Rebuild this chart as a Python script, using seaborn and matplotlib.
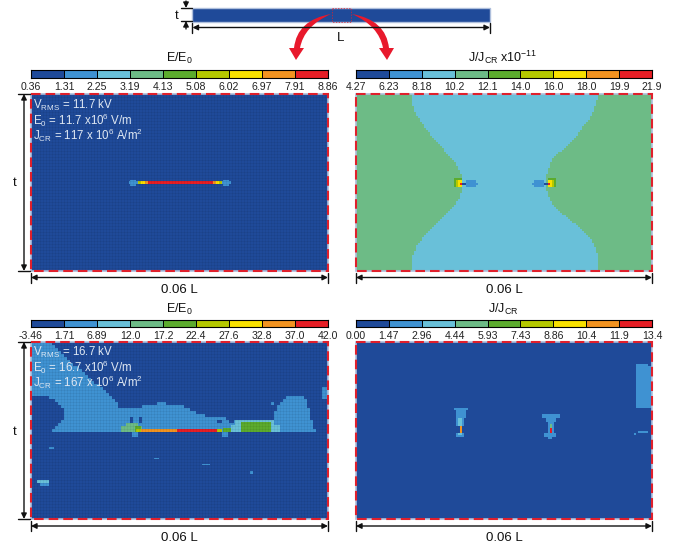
import numpy as np
import matplotlib
matplotlib.use("Agg")
import matplotlib.pyplot as plt
import seaborn as sns
from matplotlib.colors import ListedColormap, BoundaryNorm
from matplotlib.patches import Rectangle, PathPatch
from matplotlib.path import Path

# colour scale shared by all four panels
level_colors = ["#1f4a99", "#3f92d2", "#69c0d9", "#6dbb86", "#5cab2d",
                "#b5c800", "#f8e000", "#f29320", "#e61e25"]

# colour bar labels
ticks_e_top = ["0.36", "1.31", "2.25", "3.19", "4.13", "5.08", "6.02", "6.97", "7.91", "8.86"]
ticks_j_top = ["4.27", "6.23", "8.18", "10.2", "12.1", "14.0", "16.0", "18.0", "19.9", "21.9"]
ticks_e_bot = ["-3.46", "1.71", "6.89", "12.0", "17.2", "22.4", "27.6", "32.8", "37.0", "42.0"]
ticks_j_bot = ["0.00", "1.47", "2.96", "4.44", "5.93", "7.43", "8.86", "10.4", "11.9", "13.4"]

# regions are (level, row from, row to, col from, col to) on the cell grid
# E panels have 118 x 198 half cells, J panels 88 x 148 cells
e_top_regions = [(1, 58, 60, 65, 71), (1, 57, 61, 66, 70), (1, 58, 60, 127, 133), (1, 57, 61, 128, 132),
                 (5, 58, 60, 71, 73), (6, 58, 60, 73, 76), (7, 58, 60, 76, 78), (8, 58, 60, 78, 121),
                 (7, 58, 60, 121, 123), (6, 58, 60, 123, 125), (5, 58, 60, 125, 127)]

# first plume row for each column of the lower E panel (full cells)
plume_top = [0, 0, 0, 0, 0, 0, 0, 1, 2, 3, 4, 5, 6, 7, 8, 8, 9, 10, 11, 12,
             13, 14, 14, 15, 16, 17, 18, 19, 20, 22, 22, 22, 22, 22, 22, 22, 22, 21, 21, 21,
             21, 21, 20, 20, 20, 21, 21, 21, 21, 21, 21, 22, 22, 23, 23, 24, 24, 24, 25, 25,
             25, 25, 25, 25, 25, 26, 26, 26, 26, 26, 26, 26, 26, 26, 26, 26, 26, 26, 26, 27,
             26, 23, 21, 20, 19, 18, 18, 18, 18, 18, 18, 19, 22, 26, 29, 30, 30, 30, 30]
# last column of the dark pocket for rows 18 to 29
pocket_right = [5, 7, 8, 9, 10, 10, 10, 10, 9, 8, 7, 6]
e_bot_regions = [(3, 54, 60, 63, 71), (3, 56, 60, 60, 74), (4, 56, 60, 69, 73),
                 (0, 50, 54, 66, 68), (0, 50, 54, 72, 74),
                 (2, 52, 60, 136, 162), (2, 55, 60, 133, 166), (4, 53, 60, 140, 160), (4, 57, 60, 128, 133),
                 (0, 48, 50, 126, 134), (0, 52, 54, 124, 127), (0, 52, 54, 132, 135),
                 (1, 60, 63, 67, 71), (1, 60, 63, 127, 131),
                 (5, 58, 60, 70, 73), (7, 58, 60, 73, 97), (8, 58, 60, 97, 124), (5, 58, 60, 124, 127),
                 (1, 70, 71, 12, 15), (1, 77, 78, 82, 85), (1, 81, 82, 114, 119),
                 (1, 86, 88, 146, 148), (1, 40, 42, 160, 162), (2, 92, 94, 4, 12),
                 (1, 94, 96, 6, 12), (1, 30, 38, 194, 198)]

# edges of the pale centre band for each row of the upper J panel
band_left = [28, 28, 28, 28, 28, 28, 29, 29, 29, 30, 30, 31, 32, 32, 33, 34, 34, 35, 36, 37,
             37, 38, 39, 40, 41, 42, 43, 44, 44, 45, 46, 47, 48, 49, 50, 50, 51, 51, 52, 52,
             53, 53, 53, 53, 53, 53, 53, 53, 53, 52, 52, 52, 51, 50, 50, 49, 48, 47, 46, 45,
             44, 43, 42, 41, 40, 39, 38, 37, 36, 35, 34, 33, 33, 32, 31, 30, 30, 30, 29, 29,
             28, 28, 28, 28, 28, 28, 28, 28]
band_right = [121, 121, 121, 120, 120, 120, 119, 119, 119, 118, 118, 117, 117, 116, 115, 114, 113, 113, 112, 111,
              111, 110, 109, 108, 107, 106, 105, 104, 103, 101, 100, 99, 98, 98, 97, 97, 97, 96, 96, 96,
              95, 95, 95, 95, 95, 95, 95, 95, 96, 96, 96, 97, 97, 98, 98, 99, 100, 101, 102, 103,
              105, 106, 107, 108, 110, 111, 112, 113, 114, 115, 116, 117, 118, 118, 119, 119, 120, 120, 120, 121,
              121, 121, 121, 121, 121, 121, 121, 121]
j_top_regions = [(4, 42, 46, 49, 53), (5, 43, 46, 50, 53), (6, 43, 46, 51, 53), (8, 44, 45, 52, 53),
                 (0, 44, 45, 53, 55), (1, 43, 46, 55, 60), (1, 44, 45, 60, 61),
                 (4, 42, 46, 96, 100), (5, 43, 46, 96, 99), (6, 43, 46, 96, 98), (8, 44, 45, 96, 97),
                 (0, 44, 45, 94, 96), (1, 43, 46, 89, 94), (1, 44, 45, 88, 89)]

j_bot_regions = [(1, 33, 34, 49, 56), (1, 34, 38, 50, 55), (1, 38, 42, 50, 54), (2, 38, 42, 51, 53),
                 (7, 42, 45, 52, 53), (1, 45, 47, 50, 54), (2, 45, 46, 51, 53),
                 (1, 36, 38, 93, 102), (1, 38, 40, 95, 100), (1, 40, 45, 96, 99), (3, 41, 44, 97, 98),
                 (8, 43, 45, 97, 98), (1, 45, 47, 94, 100), (1, 47, 48, 96, 98),
                 (1, 11, 33, 140, 148), (0, 11, 12, 146, 148), (1, 44, 45, 141, 146), (1, 45, 46, 139, 140)]


def fill(grid, regions):
    for level, r0, r1, c0, c1 in regions:
        grid[r0:r1, c0:c1] = level


e_top = np.zeros((118, 198), dtype=int)
fill(e_top, e_top_regions)

# lower E panel: the plume is read on full cells, details on half cells
plume = np.zeros((59, 99), dtype=int)
for col, top in enumerate(plume_top):
    plume[top:30, col] = 1
for i, right in enumerate(pocket_right):
    plume[18 + i, :right + 1] = 0
e_bot = np.repeat(np.repeat(plume, 2, axis=0), 2, axis=1)
fill(e_bot, e_bot_regions)

# upper J panel
j_top = np.full((88, 148), 3)
for row in range(88):
    j_top[row, band_left[row]:band_right[row]] = 2
fill(j_top, j_top_regions)

j_bot = np.zeros((88, 148), dtype=int)
fill(j_bot, j_bot_regions)

sns.set_theme(style="white")
plt.rcParams["font.family"] = ["Liberation Sans", "DejaVu Sans"]
plt.rcParams["mathtext.fontset"] = "custom"
plt.rcParams["mathtext.rm"] = "Liberation Sans"
plt.rcParams["mathtext.default"] = "rm"

W, H = 691, 549
fig = plt.figure(figsize=(W / 100, H / 100), dpi=100)
cmap = ListedColormap(level_colors)
norm = BoundaryNorm(np.arange(-0.5, 9.5), cmap.N)


def px_axes(x0, y0, x1, y1):
    return fig.add_axes([x0 / W, 1 - y1 / H, (x1 - x0) / W, (y1 - y0) / H])


def draw_panel(grid, x0, y0, x1, y1, mesh):
    ax = px_axes(x0, y0, x1, y1)
    sns.heatmap(grid, ax=ax, cmap=cmap, norm=norm, cbar=False, xticklabels=False, yticklabels=False)
    if mesh:
        # faint FE mesh over the field
        rows, cols = grid.shape
        ax.vlines(np.arange(0, cols + 1, 2), 0, rows, color="black", alpha=0.05, lw=0.7)
        ax.hlines(np.arange(0, rows + 1, 2), 0, cols, color="black", alpha=0.05, lw=0.7)


def draw_bar(labels, x0, y0, x1, y1):
    ax = px_axes(x0, y0, x1, y1)
    sns.heatmap(np.arange(9).reshape(1, 9), ax=ax, cmap=cmap, norm=norm, cbar=False,
                linewidths=0.7, linecolor="black", yticklabels=False)
    ax.set_xticks(np.arange(10))
    ax.set_xticklabels(labels, rotation=0, fontsize=7.6, color="#222222")
    ax.tick_params(axis="x", length=0, pad=3.5)
    for s in ax.spines.values():
        s.set_visible(True)
        s.set_color("black")
        s.set_linewidth(0.8)


draw_panel(e_top, 31, 94, 328, 271, True)
draw_panel(j_top, 356, 94, 652, 271, False)
draw_panel(e_bot, 31, 342, 328, 519, True)
draw_panel(j_bot, 356, 342, 652, 519, False)

draw_bar(ticks_e_top, 31, 70.5, 328, 77.5)
draw_bar(ticks_j_top, 356, 70.5, 652, 77.5)
draw_bar(ticks_e_bot, 31, 319.5, 328, 326.5)
draw_bar(ticks_j_bot, 356, 319.5, 652, 326.5)

# overlay in pixel coordinates for the annotations
ov = fig.add_axes([0, 0, 1, 1])
ov.set_xlim(0, W)
ov.set_ylim(H, 0)
ov.axis("off")
ov.patch.set_alpha(0)


def dim_arrow(x0, y0, x1, y1):
    ov.annotate("", xy=(x1, y1), xytext=(x0, y0),
                arrowprops=dict(arrowstyle="<|-|>", color="#111111", lw=1.0,
                                shrinkA=0, shrinkB=0, mutation_scale=8))
    if y0 == y1:
        ov.plot([x0, x0], [y0 - 5, y0 + 5], color="#111111", lw=1)
        ov.plot([x1, x1], [y0 - 5, y0 + 5], color="#111111", lw=1)
    else:
        ov.plot([x0 - 6, x0 + 6], [y0, y0], color="#111111", lw=1)
        ov.plot([x0 - 6, x0 + 6], [y1, y1], color="#111111", lw=1)


for x0, x1, y0, y1 in [(31, 328, 94, 271), (356, 652, 94, 271), (31, 328, 342, 519), (356, 652, 342, 519)]:
    ov.add_patch(Rectangle((x0, y0), x1 - x0, y1 - y0, fill=False, ec="#aebfdc", lw=1.2))
    ov.add_patch(Rectangle((x0, y0), x1 - x0, y1 - y0, fill=False, ec="#e0202c", lw=1.5,
                           ls=(0, (4.6, 2.4))))

dim_arrow(24, 94, 24, 271)
dim_arrow(24, 342, 24, 519)
ov.text(15, 183, "t", fontsize=9.5, ha="center", va="center", color="#111111")
ov.text(15, 432, "t", fontsize=9.5, ha="center", va="center", color="#111111")
for x0, x1 in [(31, 328), (356, 652)]:
    dim_arrow(x0, 277.5, x1, 277.5)
    dim_arrow(x0, 526, x1, 526)
    ov.text((x0 + x1) / 2, 290, "0.06 L", fontsize=9.5, ha="center", va="center", color="#111111")
    ov.text((x0 + x1) / 2, 538, "0.06 L", fontsize=9.5, ha="center", va="center", color="#111111")

ov.text(179, 58, "E/E$_{0}$", fontsize=9, ha="center", va="center", color="#111111")
ov.text(503, 57, "J/J$_{CR}$ x10$^{-11}$", fontsize=9, ha="center", va="center", color="#111111")
ov.text(179, 309, "E/E$_{0}$", fontsize=9, ha="center", va="center", color="#111111")
ov.text(503, 309, "J/J$_{CR}$", fontsize=9, ha="center", va="center", color="#111111")

note = "#dfe8f3"
ov.text(33, 121, "V$_{RMS}$ = 11.7 kV\nE$_{0}$ = 11.7 x10$^{6}$ V/m\nJ$_{CR}$ = 117 x 10$^{6}$ A/m$^{2}$",
        fontsize=8.3, va="center", color=note, linespacing=0.83)
ov.text(33, 368, "V$_{RMS}$ = 16.7 kV\nE$_{0}$ = 16.7 x10$^{6}$ V/m\nJ$_{CR}$ = 167 x 10$^{6}$ A/m$^{2}$",
        fontsize=8.3, va="center", color=note, linespacing=0.83)

# schematic strip on top
ov.add_patch(Rectangle((192.5, 8), 297.5, 13.5, fc=level_colors[0], ec="#aebfdc", lw=1))
ov.add_patch(Rectangle((332, 8), 19, 13.5, fill=False, ec="#e0202c", lw=0.5, ls=(0, (2, 2))))
ov.annotate("", xy=(186, 8), xytext=(186, 1),
            arrowprops=dict(arrowstyle="-|>", color="#111111", lw=1, shrinkA=0, shrinkB=0, mutation_scale=8))
ov.annotate("", xy=(186, 21), xytext=(186, 29),
            arrowprops=dict(arrowstyle="-|>", color="#111111", lw=1, shrinkA=0, shrinkB=0, mutation_scale=8))
ov.plot([181, 192], [8, 8], color="#111111", lw=1)
ov.plot([181, 192], [21, 21], color="#111111", lw=1)
ov.text(177, 16, "t", fontsize=9.5, ha="center", va="center", color="#111111")
dim_arrow(192.5, 27.5, 490, 27.5)
ov.text(341, 38, "L", fontsize=9.5, ha="center", va="center", color="#111111")

# red curved arrows
for mirror in [False, True]:
    pts = [(331, 14), (297, 20), (294, 48), (289, 48), (296, 60), (304, 48), (300, 48), (304, 26), (331, 14)]
    if mirror:
        pts = [(683 - x, y) for x, y in pts]
    codes = [Path.MOVETO, Path.CURVE3, Path.CURVE3, Path.LINETO, Path.LINETO, Path.LINETO,
             Path.LINETO, Path.CURVE3, Path.CURVE3]
    ov.add_patch(PathPatch(Path(pts, codes), fc="#e8192c", ec="none"))

fig.savefig("out.png", dpi=100)
